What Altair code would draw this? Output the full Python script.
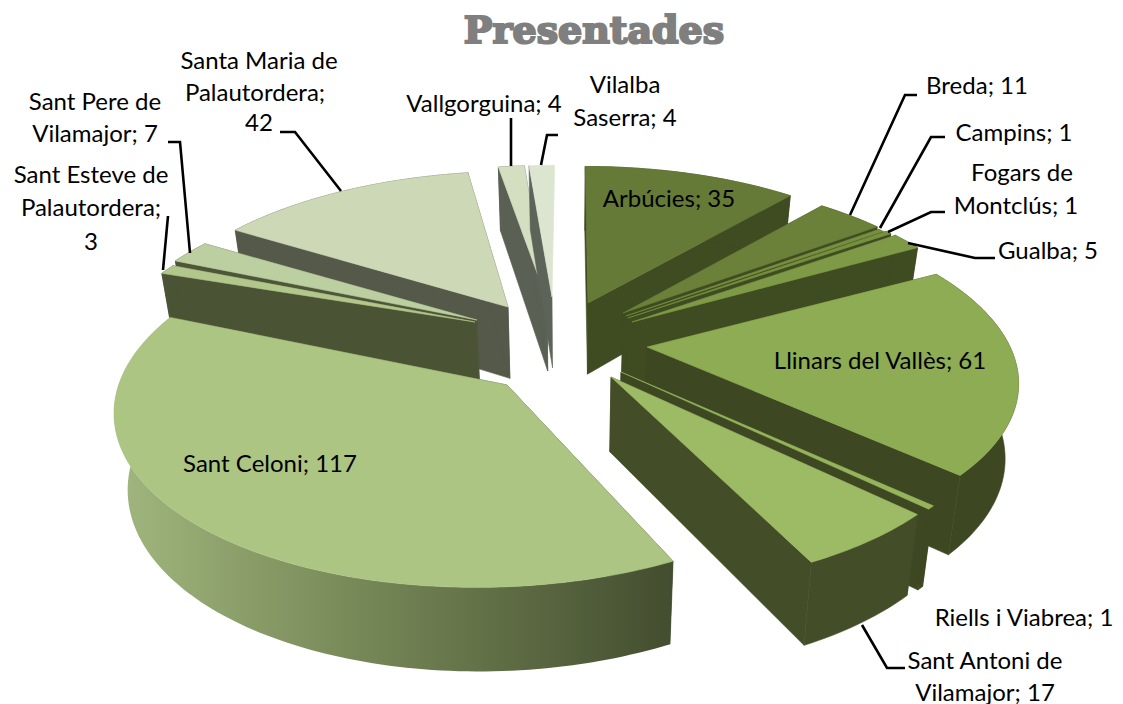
import math
import altair as alt

W, H = 1107, 688
OFF = 8
values = [35,11,1,1,5,61,1,17,117,3,7,42,4,4]
tops = ["#667a38","#6b8039","#76903f","#76903f","#7e9a47","#8dac53","#96b45b","#9dbb64","#acc583","#b1c78b","#bccfa0","#cdd9b6","#d4dfc2","#dce5d0"]
walls = ["#3f4b20","#3f4b20","#3f4b20","#3f4b20","#3f4b20","#3d4823","#3d4823","#434e29","#434d2f","#4b5335","#4e5639","#55594a","#5a6053","#5c6358"]

# layout of the exploded slices: where each tip sits, and how each slice is scaled
apex = [(588,303),(623,313),(626,316),(628,318),(632,322),(647,347),(621,372),(611,377),(507,385),(475,322),(477,320),(508,307),(547,300),(552,297)]
arc_origin = {8:(493,374)}
scale_x = [1.000,0.990,0.982,0.987,0.989,0.974,0.956,0.952,0.965,0.986,0.991,1.001,1.066,1.047]
scale_y = [0.980,0.955,0.954,0.977,0.998,0.921,0.909,0.902,0.915,0.874,0.926,0.964,0.970,0.953]
draw_order = [12,13,11,10,9,0,1,2,3,4,5,6,7,8]

label_lines = [
 ("Arbúcies; 35",669,200),("Breda; 11",977,87),("Campins; 1",1014,134),("Fogars de",1022,174),("Montclús; 1",1016,207),
 ("Gualba; 5",1048,252),("Llinars del Vallès; 61",880,362),("Riells i Viabrea; 1",1024,619),("Sant Antoni de",985,662),("Vilamajor; 17",985,694),
 ("Sant Celoni; 117",270,465),("Sant Esteve de",91,176),("Palautordera;",91,209),("3",91,243),("Sant Pere de",95,103),("Vilamajor; 7",95,135),
 ("Santa Maria de",259,62),("Palautordera;",255,94),("42",259,124),("Vallgorguina; 4",484,105),("Vilalba",625,86),("Saserra; 4",625,119)]
leaders = [
 [(917,95),(905,95),(850,215)],[(945,137),(931,137),(880,228)],[(945,212),(931,212),(888,232)],[(995,258),(975,258),(908,243)],
 [(168,142),(180,142),(190,253)],[(168,216),(163,270)],[(280,132),(295,132),(341,191)],[(511,118),(511,166)],[(558,135),(547,135),(541,165)],
 [(905,668),(887,668),(862,625)]]

CX, CY, P, A, B = 570, 340, 0.19, 370, 178
DEPTH, PD, SHRINK = 73, 0.12, 0.03

def inv(px):
    v = (CY-px[1])/B
    Y = v/(1-P*v)
    w = 1+P*Y
    return ((px[0]-CX)/A*w, Y)

def proj(X,Y):
    w = 1+P*Y
    return (CX+A*X/w, CY-B*Y/w)

def bottom(X,Y,sx,sy):
    return (sx-(sx-CX)*SHRINK, sy+DEPTH/(1+PD*Y))

total = sum(values)
angles=[]; c=0
for v in values:
    angles.append((c/total*2*math.pi,(c+v)/total*2*math.pi)); c+=v

def feat(pts,fill):
    pts=[[round(x-OFF,2),round(y-OFF,2)] for x,y in pts]
    pts.append(pts[0])
    return {"type":"Feature","properties":{"fill":fill},"geometry":{"type":"Polygon","coordinates":[pts]}}

under=[];over=[];grad=[]
for i in draw_order:
    a0,a1=angles[i]
    ax,ay=inv(apex[i])
    ox,oy=inv(arc_origin.get(i,apex[i]))
    n=max(3,int((a1-a0)/0.02))
    arc=[]
    for j in range(n+1):
        th=a0+(a1-a0)*j/n
        arc.append((ox+scale_x[i]*math.sin(th),oy+scale_y[i]*math.cos(th)))
    top=[proj(*q) for q in arc]
    bot=[bottom(q[0],q[1],*proj(*q)) for q in arc]
    pa=proj(ax,ay); ba=bottom(ax,ay,*pa)
    under.append(feat([pa,top[0],bot[0],ba],walls[i]))
    if i!=13:
        under.append(feat([pa,top[-1],bot[-1],ba],walls[i]))
    if i==8:
        grad.append(feat(top+bot[::-1],"g"))
        over.append(feat([pa]+top,tops[i]))
    else:
        if i!=13:
            under.append(feat(top+bot[::-1],walls[i]))
        under.append(feat([pa]+top,tops[i]))

def shapes(f):
    return alt.Chart(alt.Data(values=f)).mark_geoshape(strokeWidth=0.6).encode(
        fill=alt.Fill("properties.fill:N",scale=None),stroke=alt.Stroke("properties.fill:N",scale=None)).project(type="identity",scale=1,translate=[0,0])
gradient=alt.Gradient(gradient="linear",x1=0,x2=1,y1=0,y2=0,stops=[alt.GradientStop(color="#a2b77f",offset=0),alt.GradientStop(color="#7a8c5a",offset=0.4),alt.GradientStop(color="#434d2f",offset=1)])
gl=alt.Chart(alt.Data(values=grad)).mark_geoshape(fill=gradient).project(type="identity",scale=1,translate=[0,0])

xs=alt.X("x:Q",scale=alt.Scale(domain=[0,W],range=[0,W],nice=False,zero=False),axis=None)
ys=alt.Y("y:Q",scale=alt.Scale(domain=[0,H],range=[0,H],nice=False,zero=False),axis=None)
line_rows=[{"id":k,"o":m,"x":p[0]-OFF,"y":p[1]-OFF} for k,pl in enumerate(leaders) for m,p in enumerate(pl)]
ln=alt.Chart(alt.Data(values=line_rows)).mark_line(color="#000000",strokeWidth=2.6).encode(x=xs,y=ys,detail="id:N",order="o:Q")
txt_rows=[{"t":t,"x":x-OFF,"y":y-OFF} for t,x,y in label_lines]
txt=alt.Chart(alt.Data(values=txt_rows)).mark_text(align="center",baseline="middle",font="Lato",fontSize=24,color="#000000").encode(x=xs,y=ys,text="t:N")
title=alt.Chart(alt.Data(values=[{"t":"Presentades","x":594-OFF,"y":32-OFF}])).mark_text(align="center",baseline="middle",font="DejaVu Serif",fontWeight="bold",fontSize=38,color="#7f7f7f",stroke="#7f7f7f",strokeWidth=2.2).encode(x=xs,y=ys,text="t:N")
chart=alt.layer(shapes(under),gl,shapes(over),ln,txt,title).properties(width=W,height=H,padding=0,background="white").configure_view(stroke=None)
chart.save("out.html",embed_options={"renderer":"svg","actions":False})
